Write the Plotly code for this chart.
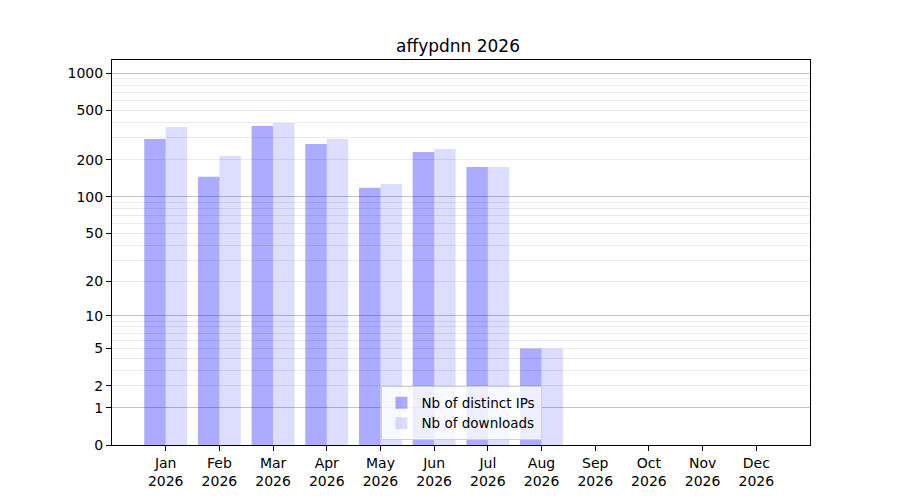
"""Monthly downloads chart for affypdnn."""
import numpy as np
import plotly.graph_objects as go

months = ["Jan", "Feb", "Mar", "Apr", "May", "Jun",
          "Jul", "Aug", "Sep", "Oct", "Nov", "Dec"]
year = 2026
distinct_ips = [294, 145, 375, 268, 118, 231, 174, 5, 0, 0, 0, 0]
downloads = [368, 214, 396, 294, 127, 244, 174, 5, 0, 0, 0, 0]

major_ticks = [0, 1, 2, 5, 10, 20, 50, 100, 200, 500, 1000]
dark_grid = [1, 10, 100, 1000]
minor_ticks = [3, 4, 6, 7, 8, 9, 30, 40, 60, 70, 80, 90,
               300, 400, 600, 700, 800, 900]


def to_axis(values):
    """Symlog-like transform used for the y axis: log10(1 + v)."""
    return np.log10(1 + np.asarray(values, dtype=float))


x = list(range(len(months)))
tick_text = [f"{m}<br>{year}" for m in months]

fig = go.Figure()
fig.add_trace(go.Bar(
    x=x, y=to_axis(distinct_ips), width=0.4, offset=-0.4,
    name="Nb of distinct IPs", marker=dict(color="rgba(0,0,255,0.33)", line_width=0),
    customdata=distinct_ips, hovertemplate="%{customdata}<extra></extra>",
))
fig.add_trace(go.Bar(
    x=x, y=to_axis(downloads), width=0.4, offset=0,
    name="Nb of downloads", marker=dict(color="rgba(0,0,255,0.135)", line_width=0),
    customdata=downloads, hovertemplate="%{customdata}<extra></extra>",
))

# the page puts the figure 8px in from the corner, margins allow for that
y_range = [0, 3.107]
fig.update_layout(
    width=900, height=500,
    paper_bgcolor="white", plot_bgcolor="white",
    margin=dict(l=104, r=98, t=52, b=63),
    font=dict(family="DejaVu Sans", size=14, color="black"),
    title=dict(text="affypdnn 2026", x=0.5, xanchor="center", y=0.924, yanchor="middle",
               font=dict(size=17)),
    barmode="overlay",
    showlegend=True,
    legend=dict(x=0.5, xanchor="center", y=0.012, yanchor="bottom",
                bgcolor="rgba(255,255,255,0.8)", bordercolor="#d0d0d0", borderwidth=1,
                font=dict(size=13.5), tracegroupgap=0),
    xaxis=dict(
        range=[-1, 12], tickvals=x, ticktext=tick_text,
        showgrid=False, zeroline=False,
        showline=True, linecolor="black", linewidth=1, mirror=True,
        ticks="outside", ticklen=5, tickcolor="black",
    ),
    yaxis=dict(
        range=y_range, tickvals=to_axis(major_ticks), ticktext=[str(t) for t in major_ticks],
        showgrid=True, gridcolor="#ebebeb", gridwidth=1, zeroline=False,
        showline=True, linecolor="black", linewidth=1, mirror=True,
        ticks="outside", ticklen=5, tickcolor="black",
        minor=dict(tickvals=to_axis(minor_ticks), showgrid=True,
                   gridcolor="#ebebeb", gridwidth=1, ticks=""),
    ),
    yaxis2=dict(
        range=y_range, overlaying="y", tickvals=to_axis(dark_grid),
        showticklabels=False, showgrid=True, gridcolor="#c4c4c4", gridwidth=1,
        zeroline=False, showline=False, ticks="",
    ),
)
# invisible trace to make the second y axis (darker grid) render
fig.add_trace(go.Scatter(x=[0], y=[0], yaxis="y2", mode="markers",
                         marker=dict(opacity=0), showlegend=False, hoverinfo="skip"))

fig.write_html("out.html")
